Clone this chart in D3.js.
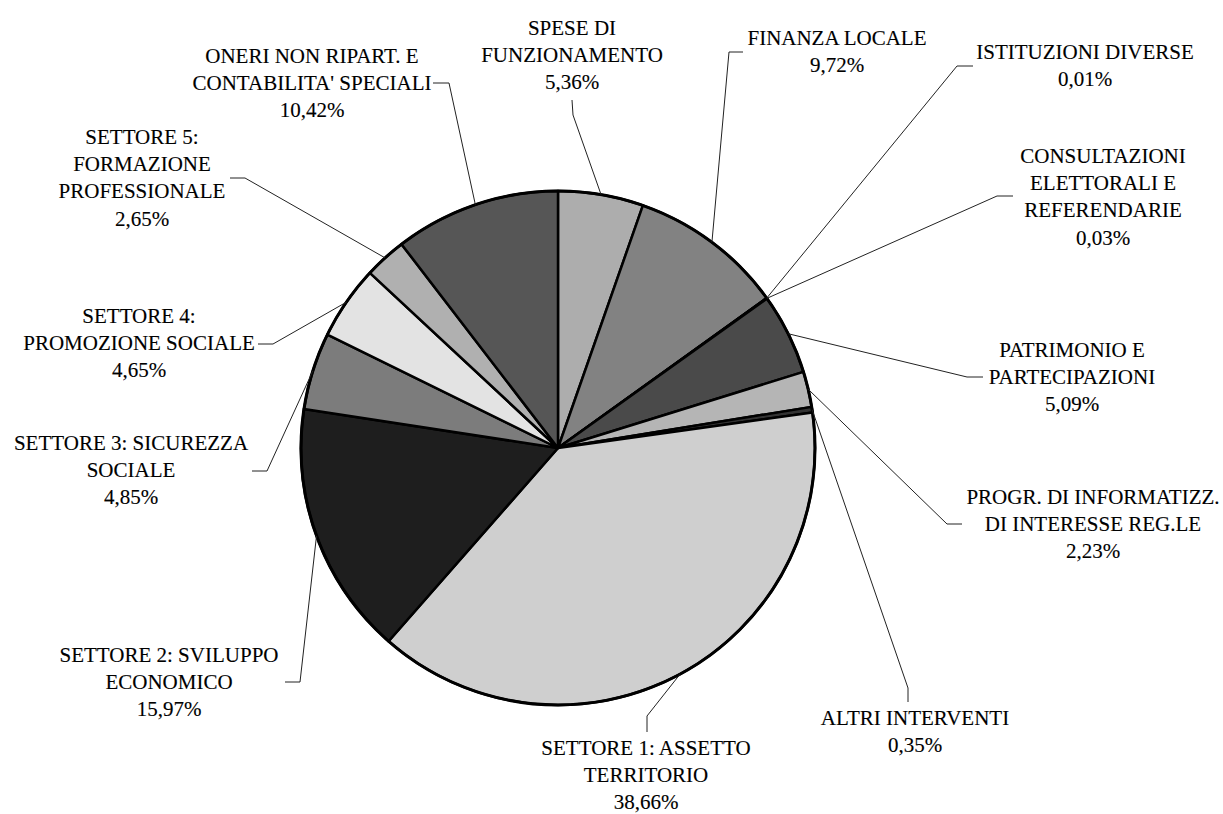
<!DOCTYPE html>
<html>
<head>
<meta charset="utf-8">
<script src="https://cdn.jsdelivr.net/npm/d3@7/dist/d3.min.js"></script>
<style>
  body { margin: 0; background: #fff; }
  text.lbl { font-family: "Liberation Serif", "Times New Roman", Times, "DejaVu Serif", serif; font-size: 21px; }
</style>
</head>
<body>
<div id="chart"></div>
<script>
// categories, clockwise from 12 o'clock
var categories = [
  ["SPESE DI", "FUNZIONAMENTO"],
  ["FINANZA LOCALE"],
  ["ISTITUZIONI DIVERSE"],
  ["CONSULTAZIONI", "ELETTORALI E", "REFERENDARIE"],
  ["PATRIMONIO E", "PARTECIPAZIONI"],
  ["PROGR. DI INFORMATIZZ.", "DI INTERESSE REG.LE"],
  ["ALTRI INTERVENTI"],
  ["SETTORE 1: ASSETTO", "TERRITORIO"],
  ["SETTORE 2: SVILUPPO", "ECONOMICO"],
  ["SETTORE 3: SICUREZZA", "SOCIALE"],
  ["SETTORE 4:", "PROMOZIONE SOCIALE"],
  ["SETTORE 5:", "FORMAZIONE", "PROFESSIONALE"],
  ["ONERI NON RIPART. E", "CONTABILITA' SPECIALI"]
];
var values = [5.36, 9.72, 0.01, 0.03, 5.09, 2.23, 0.35, 38.66, 15.97, 4.85, 4.65, 2.65, 10.42];

// slice fills (grey shades)
var fills = ["#adadad", "#828282", "#555555", "#999999", "#4a4a4a", "#b5b5b5", "#333333",
             "#cfcfcf", "#1e1e1e", "#7c7c7c", "#e3e3e3", "#b0b0b0", "#565656"];

// label layout: centre x, y of first line
var labelPos = [[572, 28], [837, 38], [1085, 52], [1103, 156], [1072, 350], [1093, 497],
                [915, 718], [646, 748], [169, 655], [131, 443], [139, 316], [142, 137], [312, 56]];
// leader lines: elbow point then end point at the label
var leaderElbow = [[573, 115], [729, 52], [957, 66], [997, 196], [967, 377], [947, 524],
                   [908, 688], [647, 716], [300, 682], [267, 471], [273, 344], [245, 178], [449, 83]];
var leaderEnd = [[572, 100], [743, 52], [973, 66], [1013, 196], [983, 377], [962, 524],
                 [908, 702], [647, 732], [285, 682], [252, 471], [258, 344], [230, 178], [433, 83]];

var w = 1223, h = 814;
var cx = 558, cy = 448, r = 257;
var lineH = 27.2;

var fmt = function(v) { return d3.format(".2f")(v).replace(".", ",") + "%"; };

var svg = d3.select("#chart")
  .append("svg")
  .attr("width", w)
  .attr("height", h);

var pie = d3.pie().sort(null).value(function(d) { return d; });
var arcs = pie(values);

var arc = d3.arc().innerRadius(0).outerRadius(r);
var edge = d3.arc().innerRadius(r).outerRadius(r);

var g = svg.append("g").attr("transform", "translate(" + cx + "," + cy + ")");

// leader lines
svg.selectAll("path.leader")
  .data(arcs)
  .enter()
  .append("path")
  .attr("class", "leader")
  .attr("d", function(d, i) {
    var c = edge.centroid(d);
    return d3.line()([[cx + c[0], cy + c[1]], leaderElbow[i], leaderEnd[i]]);
  })
  .attr("fill", "none")
  .attr("stroke", "#222")
  .attr("stroke-width", 1);

g.selectAll("path.slice")
  .data(arcs)
  .enter()
  .append("path")
  .attr("class", "slice")
  .attr("d", arc)
  .attr("fill", function(d, i) { return fills[i]; })
  .attr("stroke", "#000")
  .attr("stroke-width", 2.5)
  .attr("stroke-linejoin", "round");

g.append("circle")
  .attr("r", r)
  .attr("fill", "none")
  .attr("stroke", "#000")
  .attr("stroke-width", 3);

// labels
var labels = svg.selectAll("text.lbl")
  .data(arcs)
  .enter()
  .append("text")
  .attr("class", "lbl")
  .attr("text-anchor", "middle")
  .attr("fill", "#000")
  .attr("stroke", "#000")
  .attr("stroke-width", 0.12);

labels.each(function(d, i) {
  var lines = categories[i].concat([fmt(values[i])]);
  var t = d3.select(this);
  lines.forEach(function(s, k) {
    t.append("tspan")
      .attr("x", labelPos[i][0])
      .attr("y", labelPos[i][1] + k * lineH + 7)
      .text(s);
  });
});
</script>
</body>
</html>
